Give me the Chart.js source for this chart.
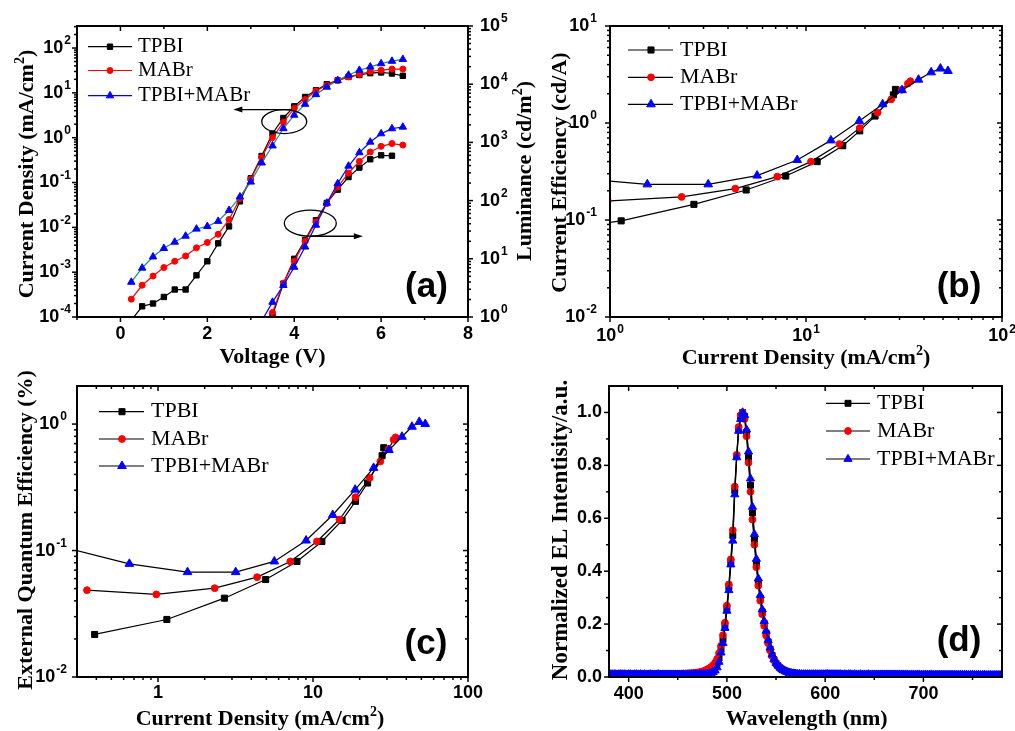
<!DOCTYPE html>
<html>
<head>
<meta charset="utf-8">
<title>Device characteristics: TPBI, MABr, TPBI+MABr</title>
<script src="https://cdn.jsdelivr.net/npm/chart.js@4.4.1/dist/chart.umd.min.js"></script>
<style>
  html, body { margin: 0; padding: 0; background: #fff; }
  #figure { position: relative; width: 1015px; height: 731px; }
  #figure canvas { position: absolute; left: 0; top: 0; pointer-events: none; }
</style>
</head>
<body>
<div id="figure">
  <canvas id="panelA" width="1015" height="731"></canvas>
  <canvas id="panelB" width="1015" height="731"></canvas>
  <canvas id="panelC" width="1015" height="731"></canvas>
  <canvas id="panelD" width="1015" height="731"></canvas>
</div>
<script>
const SERIF = '"Liberation Serif", "Times New Roman", serif';
const SANS = '"Liberation Sans", Arial, sans-serif';

// ---- (a) current density and luminance vs voltage ----
const voltage = [0.25, 0.5, 0.75, 1.0, 1.25, 1.5, 1.75, 2.0, 2.25, 2.5, 2.75, 3.0, 3.25,
                 3.5, 3.75, 4.0, 4.25, 4.5, 4.75, 5.0, 5.25, 5.5, 5.75, 6.0, 6.25, 6.5];
const jTPBI = [8.4e-5, 1.73e-4, 2.0e-4, 2.8e-4, 4.1e-4, 4.1e-4, 8.5e-4, 1.75e-3, 4.4e-3, 1.05e-2, 3.8e-2, 0.124, 0.39,
               1.24, 2.75, 5.0, 8.1, 11.4, 15.6, 19, 22.7, 25, 27.5, 28.5, 27, 24];
const jMABr = [2.5e-4, 5.1e-4, 8.2e-4, 1.27e-3, 1.75e-3, 2.3e-3, 3.5e-3, 4.6e-3, 7.0e-3, 1.5e-2, 4.4e-2, 0.118, 0.36,
               1.0, 2.2, 4.5, 7.1, 11, 14.8, 19, 22.7, 26, 30, 32, 34, 34];
const jMixed = [6.0e-4, 1.24e-3, 2.2e-3, 3.4e-3, 4.7e-3, 6.4e-3, 9.2e-3, 1.05e-2, 1.37e-2, 2.4e-2, 4.8e-2, 0.103, 0.275,
                0.66, 1.6, 3.2, 5.6, 9.2, 13.5, 19, 25, 32, 38, 45, 51, 56];

const lumVoltage = [3.25, 3.5, 3.75, 4.0, 4.25, 4.5, 4.75, 5.0, 5.25, 5.5, 5.75, 6.0, 6.25, 6.5];
const lumTPBI = [0.3, 1.07, 3.75, 10, 21, 46, 91, 154, 254, 369, 513, 600, 590];
const lumMABr = [0.4, 1.2, 3.8, 9.1, 20, 43, 89, 171, 298, 473, 684, 857, 955, 900];
const lumMixed = [0.85, 1.8, 3.5, 7.2, 16, 38, 91, 196, 393, 668, 1016, 1413, 1727, 1840];

// ---- (b) current efficiency and (c) EQE vs current density ----
const jeTPBI = [0.39, 1.14, 2.68, 4.95, 7.88, 11.4, 15.4, 18.8, 22.5, 27.9, 28.6];
const ceTPBI = [0.074, 0.098, 0.145, 0.204, 0.284, 0.40, 0.583, 0.83, 1.18, 1.95, 2.22];
const eqeTPBI = [0.0217, 0.0285, 0.042, 0.059, 0.082, 0.118, 0.173, 0.245, 0.342, 0.562, 0.65];

const jeMABr = [0.348, 0.975, 2.32, 4.36, 7.14, 10.6, 14.8, 18.8, 23.2, 27.2, 30.8, 33.1, 34.1];
const ceMABr = [0.166, 0.157, 0.173, 0.211, 0.28, 0.40, 0.607, 0.89, 1.28, 1.75, 2.2, 2.55, 2.7];
const eqeMABr = [0.0486, 0.045, 0.0504, 0.0616, 0.082, 0.118, 0.176, 0.264, 0.375, 0.507, 0.635, 0.752, 0.785];

const jeMixed = [0.2, 0.653, 1.55, 3.17, 5.63, 9.02, 13.4, 18.7, 24.6, 30.9, 37.5, 43.5, 48.5, 53];
const ceMixed = [0.39, 0.27, 0.233, 0.233, 0.287, 0.415, 0.662, 1.05, 1.56, 2.18, 2.8, 3.33, 3.64, 3.44];
const eqeMixed = [0.113, 0.0785, 0.0675, 0.0675, 0.082, 0.12, 0.191, 0.303, 0.45, 0.623, 0.794, 0.953, 1.04, 1.0];

// ---- (d) normalized EL spectra, sampled every 2 nm from 380 to 780 nm ----
const wlStart = 380, wlStep = 2;
const elTPBI = [
  0.011, 0.011, 0.011, 0.011, 0.011, 0.011, 0.011, 0.011, 0.010, 0.011,
  0.011, 0.010, 0.011, 0.010, 0.010, 0.011, 0.010, 0.010, 0.010, 0.010,
  0.010, 0.010, 0.010, 0.010, 0.010, 0.010, 0.010, 0.010, 0.010, 0.010,
  0.010, 0.010, 0.010, 0.010, 0.010, 0.011, 0.011, 0.011, 0.011, 0.011,
  0.011, 0.012, 0.012, 0.012, 0.013, 0.013, 0.014, 0.015, 0.016, 0.018,
  0.020, 0.022, 0.026, 0.031, 0.038, 0.050, 0.072, 0.104, 0.142, 0.195,
  0.260, 0.340, 0.435, 0.535, 0.705, 0.835, 0.940, 0.985, 1.000, 0.985,
  0.925, 0.830, 0.725, 0.620, 0.520, 0.430, 0.358, 0.298, 0.246, 0.202,
  0.165, 0.133, 0.105, 0.082, 0.065, 0.052, 0.043, 0.035, 0.029, 0.025,
  0.021, 0.018, 0.016, 0.015, 0.014, 0.013, 0.012, 0.012, 0.011, 0.011,
  0.011, 0.011, 0.010, 0.010, 0.010, 0.010, 0.010, 0.010, 0.010, 0.010,
  0.010, 0.010, 0.010, 0.010, 0.010, 0.010, 0.010, 0.010, 0.010, 0.009,
  0.010, 0.009, 0.010, 0.009, 0.009, 0.010, 0.009, 0.009, 0.009, 0.009,
  0.009, 0.009, 0.009, 0.009, 0.009, 0.009, 0.009, 0.009, 0.009, 0.009,
  0.009, 0.009, 0.009, 0.009, 0.009, 0.009, 0.009, 0.009, 0.009, 0.009,
  0.009, 0.009, 0.009, 0.009, 0.009, 0.009, 0.009, 0.009, 0.008, 0.009,
  0.009, 0.008, 0.009, 0.009, 0.008, 0.009, 0.008, 0.008, 0.009, 0.008,
  0.008, 0.008, 0.008, 0.008, 0.008, 0.008, 0.008, 0.008, 0.008, 0.008,
  0.008, 0.008, 0.008, 0.008, 0.008, 0.008, 0.008, 0.008, 0.008, 0.008,
  0.008, 0.008, 0.008, 0.008, 0.008, 0.008, 0.008, 0.008, 0.008, 0.008,
  0.008
];
const elMABr = [
  0.013, 0.013, 0.012, 0.013, 0.012, 0.012, 0.013, 0.012, 0.012, 0.012,
  0.012, 0.012, 0.012, 0.011, 0.012, 0.012, 0.011, 0.012, 0.011, 0.011,
  0.011, 0.012, 0.011, 0.011, 0.011, 0.011, 0.011, 0.011, 0.011, 0.012,
  0.011, 0.011, 0.012, 0.012, 0.012, 0.012, 0.012, 0.013, 0.013, 0.013,
  0.014, 0.014, 0.015, 0.015, 0.016, 0.017, 0.018, 0.020, 0.022, 0.025,
  0.029, 0.033, 0.038, 0.045, 0.054, 0.068, 0.090, 0.118, 0.158, 0.205,
  0.270, 0.350, 0.445, 0.555, 0.720, 0.840, 0.945, 0.990, 1.000, 0.975,
  0.910, 0.810, 0.700, 0.595, 0.500, 0.415, 0.345, 0.288, 0.237, 0.193,
  0.156, 0.128, 0.100, 0.080, 0.064, 0.052, 0.043, 0.036, 0.030, 0.026,
  0.022, 0.019, 0.017, 0.016, 0.015, 0.014, 0.013, 0.013, 0.012, 0.012,
  0.012, 0.012, 0.011, 0.011, 0.011, 0.011, 0.011, 0.011, 0.011, 0.011,
  0.011, 0.011, 0.011, 0.010, 0.011, 0.011, 0.010, 0.011, 0.010, 0.010,
  0.010, 0.010, 0.011, 0.010, 0.010, 0.010, 0.010, 0.010, 0.010, 0.010,
  0.010, 0.010, 0.010, 0.010, 0.010, 0.011, 0.010, 0.010, 0.010, 0.010,
  0.010, 0.010, 0.010, 0.010, 0.010, 0.010, 0.010, 0.010, 0.009, 0.010,
  0.010, 0.010, 0.009, 0.010, 0.010, 0.009, 0.010, 0.010, 0.009, 0.009,
  0.010, 0.009, 0.009, 0.010, 0.009, 0.009, 0.009, 0.010, 0.009, 0.009,
  0.009, 0.009, 0.009, 0.009, 0.010, 0.009, 0.009, 0.009, 0.009, 0.009,
  0.009, 0.009, 0.009, 0.009, 0.009, 0.009, 0.008, 0.009, 0.009, 0.009,
  0.009, 0.009, 0.008, 0.009, 0.009, 0.008, 0.009, 0.008, 0.008, 0.009,
  0.008
];
const elMixed = [
  0.010, 0.010, 0.010, 0.010, 0.009, 0.010, 0.010, 0.010, 0.010, 0.009,
  0.010, 0.010, 0.009, 0.010, 0.010, 0.009, 0.010, 0.009, 0.010, 0.009,
  0.009, 0.010, 0.009, 0.009, 0.009, 0.010, 0.009, 0.009, 0.009, 0.009,
  0.009, 0.009, 0.009, 0.009, 0.009, 0.009, 0.009, 0.009, 0.009, 0.009,
  0.009, 0.009, 0.009, 0.009, 0.010, 0.010, 0.010, 0.010, 0.011, 0.011,
  0.012, 0.013, 0.015, 0.018, 0.024, 0.036, 0.057, 0.092, 0.128, 0.185,
  0.250, 0.328, 0.425, 0.515, 0.690, 0.830, 0.930, 0.975, 1.000, 0.990,
  0.935, 0.852, 0.750, 0.643, 0.540, 0.446, 0.372, 0.309, 0.255, 0.211,
  0.174, 0.139, 0.111, 0.085, 0.067, 0.053, 0.043, 0.035, 0.029, 0.025,
  0.021, 0.018, 0.016, 0.014, 0.013, 0.012, 0.011, 0.011, 0.010, 0.010,
  0.010, 0.010, 0.010, 0.010, 0.010, 0.010, 0.010, 0.010, 0.010, 0.010,
  0.010, 0.011, 0.010, 0.010, 0.010, 0.010, 0.010, 0.010, 0.010, 0.009,
  0.010, 0.009, 0.010, 0.010, 0.009, 0.010, 0.009, 0.009, 0.010, 0.009,
  0.009, 0.009, 0.010, 0.009, 0.009, 0.009, 0.009, 0.009, 0.009, 0.009,
  0.009, 0.009, 0.009, 0.009, 0.009, 0.009, 0.009, 0.009, 0.009, 0.009,
  0.009, 0.009, 0.009, 0.008, 0.009, 0.009, 0.008, 0.009, 0.009, 0.008,
  0.008, 0.009, 0.008, 0.008, 0.009, 0.008, 0.008, 0.008, 0.008, 0.008,
  0.008, 0.008, 0.008, 0.008, 0.008, 0.008, 0.008, 0.008, 0.008, 0.008,
  0.008, 0.008, 0.008, 0.007, 0.008, 0.008, 0.008, 0.007, 0.008, 0.007,
  0.007, 0.008, 0.007, 0.007, 0.007, 0.007, 0.007, 0.007, 0.007, 0.007,
  0.007
];
const wavelength = elTPBI.map((_, i) => wlStart + i * wlStep);

// ---- axis ticks ----
const voltageTicks = [0, 2, 4, 6, 8];
const voltageMinor = [-1, 1, 3, 5, 7];
const wlTicks = [400, 500, 600, 700];
const wlMinor = [450, 550, 650, 750];
const elTicks = [0, 0.2, 0.4, 0.6, 0.8, 1.0];
const elMinor = [0.1, 0.3, 0.5, 0.7, 0.9];

const BLACK = '#000000', RED = '#ff0000', BLUE = '#0000ff', TEAL = '#1b8a8a';

// plot rectangles on the page
const boxA = { left: 77, top: 26, right: 468, bottom: 317 };
const boxB = { left: 610, top: 26, right: 1002, bottom: 317 };
const boxC = { left: 77, top: 386, right: 468, bottom: 677 };
const boxD = { left: 609, top: 386, right: 1002, bottom: 677 };

function pairs(xs, ys) { return ys.map((y, i) => ({ x: xs[i], y: y })); }
function pad(b) { return { left: b.left, top: b.top, right: 1015 - b.right, bottom: 731 - b.bottom }; }
function decades(lo, hi) { const out = []; for (let e = lo; e <= hi; e++) out.push(Math.pow(10, e)); return out; }
function powLabels(lo, hi) { const out = []; for (let e = lo; e <= hi; e++) out.push({ base: '10', sup: String(e) }); return out; }
function logMinor(lo, hi) {
  const out = [];
  for (let e = Math.floor(Math.log10(lo)); e <= Math.ceil(Math.log10(hi)); e++) {
    for (let m = 2; m <= 9; m++) {
      const v = m * Math.pow(10, e);
      if (v > lo * 1.0001 && v < hi * 0.9999) out.push(v);
    }
  }
  return out;
}

function series(label, xs, ys, style, color, lineColor, radius, order, extra) {
  return Object.assign({
    label: label,
    data: pairs(xs, ys),
    showLine: true,
    borderColor: lineColor,
    borderWidth: 1.2,
    pointStyle: style,
    pointRadius: radius,
    pointHoverRadius: radius,
    pointBackgroundColor: color,
    pointBorderColor: color,
    pointBorderWidth: 1,
    clip: 0,
    order: order
  }, extra || {});
}

function drawMarker(ctx, style, color, r, x, y) {
  ctx.fillStyle = color;
  ctx.strokeStyle = color;
  ctx.lineWidth = 1;
  ctx.beginPath();
  if (style === 'rect') {
    const s = r * Math.SQRT1_2;
    ctx.rect(x - s, y - s, 2 * s, 2 * s);
  } else if (style === 'triangle') {
    for (let k = 0; k < 3; k++) {
      const ang = k * 2 * Math.PI / 3;
      const px = x + Math.sin(ang) * r, py = y - Math.cos(ang) * r;
      if (k === 0) ctx.moveTo(px, py); else ctx.lineTo(px, py);
    }
    ctx.closePath();
  } else {
    ctx.arc(x, y, r, 0, Math.PI * 2);
  }
  ctx.fill();
  ctx.stroke();
}

const TICK_FONT = '700 18px ' + SANS;
const SUP_FONT = '700 12px ' + SANS;

function drawTickLabel(ctx, lab, x, y, align) {
  ctx.font = TICK_FONT;
  const wb = ctx.measureText(lab.base).width;
  ctx.font = SUP_FONT;
  const ws = lab.sup ? ctx.measureText(lab.sup).width + 1 : 0;
  const w = wb + ws;
  const x0 = align === 'center' ? x - w / 2 : align === 'right' ? x - w : x;
  ctx.textAlign = 'left';
  ctx.textBaseline = 'middle';
  ctx.fillStyle = '#000';
  ctx.font = TICK_FONT;
  ctx.fillText(lab.base, x0, y);
  if (lab.sup) {
    ctx.font = SUP_FONT;
    ctx.fillText(lab.sup, x0 + wb + 1, y - 7);
  }
}

function drawAxis(ctx, chart, ax) {
  const s = chart.scales[ax.scale];
  const a = chart.chartArea;
  const horiz = ax.side === 'top' || ax.side === 'bottom';
  const edge = a[ax.side];
  const outward = (ax.side === 'left' || ax.side === 'top') ? -1 : 1;
  const dir = ax.inward ? -outward : outward;
  ctx.strokeStyle = '#000';
  ctx.lineWidth = 1.5;
  const tick = (v, len) => {
    const p = s.getPixelForValue(v);
    ctx.beginPath();
    if (horiz) { ctx.moveTo(p, edge); ctx.lineTo(p, edge + dir * len); }
    else { ctx.moveTo(edge, p); ctx.lineTo(edge + dir * len, p); }
    ctx.stroke();
  };
  (ax.minor || []).forEach(v => tick(v, 3));
  ax.major.forEach(v => tick(v, 5));
  if (!ax.labels) return;
  ax.major.forEach((v, i) => {
    const p = s.getPixelForValue(v);
    const lab = ax.labels[i];
    if (ax.side === 'bottom') drawTickLabel(ctx, lab, p, edge + ax.offset, 'center');
    else if (ax.side === 'left') drawTickLabel(ctx, lab, edge - ax.offset, p, 'right');
    else if (ax.side === 'right') drawTickLabel(ctx, lab, edge + ax.offset, p, 'left');
  });
}

function drawTitle(ctx, t) {
  const size = t.size || 22;
  const main = '700 ' + size + 'px ' + SERIF;
  const sup = '700 ' + Math.round(size * 0.62) + 'px ' + SERIF;
  let w = 0;
  t.parts.forEach(p => { ctx.font = p[1] ? sup : main; w += ctx.measureText(p[0]).width; });
  ctx.save();
  ctx.translate(t.x, t.y);
  if (t.rotate) ctx.rotate(-Math.PI / 2);
  ctx.textAlign = 'left';
  ctx.textBaseline = 'alphabetic';
  ctx.fillStyle = '#000';
  let x = -w / 2;
  t.parts.forEach(p => {
    ctx.font = p[1] ? sup : main;
    ctx.fillText(p[0], x, p[1] ? -size * 0.4 : 0);
    x += ctx.measureText(p[0]).width;
  });
  ctx.restore();
}

function drawLegend(ctx, lg) {
  lg.items.forEach((it, i) => {
    const y = lg.rows[i];
    ctx.strokeStyle = it.line;
    ctx.lineWidth = 1.2;
    ctx.beginPath();
    ctx.moveTo(lg.x0, y);
    ctx.lineTo(lg.x1, y);
    ctx.stroke();
    drawMarker(ctx, it.style, it.color, it.radius, lg.mx, y);
    ctx.fillStyle = '#000';
    ctx.font = lg.size + 'px ' + SERIF;
    ctx.textAlign = 'left';
    ctx.textBaseline = 'middle';
    ctx.fillText(it.label, lg.tx, y);
  });
}

function drawNote(ctx, chart, n) {
  const xs = chart.scales.x, ys = chart.scales[n.scale];
  ctx.strokeStyle = '#000';
  ctx.fillStyle = '#000';
  ctx.lineWidth = 1.3;
  if (n.kind === 'ellipse') {
    ctx.beginPath();
    ctx.ellipse(xs.getPixelForValue(n.v), ys.getPixelForValue(n.val), n.rx, n.ry, 0, 0, Math.PI * 2);
    ctx.stroke();
  } else {
    const x1 = xs.getPixelForValue(n.v1), x2 = xs.getPixelForValue(n.v2), y = ys.getPixelForValue(n.val);
    const d = Math.sign(x2 - x1);
    ctx.beginPath();
    ctx.moveTo(x1, y);
    ctx.lineTo(x2 - d * 6, y);
    ctx.stroke();
    ctx.beginPath();
    ctx.moveTo(x2, y);
    ctx.lineTo(x2 - d * 9, y - 3);
    ctx.lineTo(x2 - d * 9, y + 3);
    ctx.closePath();
    ctx.fill();
  }
}

// axes, frame, titles, legend and panel tag drawn on top of the datasets
function decor(spec) {
  return {
    id: 'decor',
    afterDraw(chart) {
      const ctx = chart.ctx, a = chart.chartArea;
      ctx.save();
      (spec.notes || []).forEach(n => drawNote(ctx, chart, n));
      spec.axes.forEach(ax => drawAxis(ctx, chart, ax));
      ctx.strokeStyle = '#000';
      ctx.lineWidth = 2;
      ctx.strokeRect(a.left, a.top, a.right - a.left, a.bottom - a.top);
      spec.titles.forEach(t => drawTitle(ctx, t));
      drawLegend(ctx, spec.legend);
      ctx.fillStyle = '#000';
      ctx.font = '700 35px ' + SANS;
      ctx.textAlign = 'center';
      ctx.textBaseline = 'alphabetic';
      ctx.fillText(spec.tag.text, spec.tag.x, spec.tag.y);
      ctx.restore();
    }
  };
}

function legendItems(datasets, lineColors) {
  return datasets.map((d, i) => ({
    label: d.label, style: d.pointStyle, color: d.pointBackgroundColor,
    radius: d.pointRadius, line: lineColors ? lineColors[i] : BLACK
  }));
}

function baseOptions(box, scales) {
  return {
    responsive: false,
    animation: false,
    events: [],
    layout: { padding: pad(box) },
    scales: scales,
    plugins: { legend: { display: false }, tooltip: { enabled: false } }
  };
}

const cdTitle = [['Current Density (mA/cm'], ['2', true], [')']];

// ---- panel (a) ----
const jvSets = [
  series('TPBI', voltage, jTPBI, 'rect', BLACK, BLACK, 3.8, 2, { yAxisID: 'y' }),
  series('MABr', voltage, jMABr, 'circle', RED, RED, 3, 1, { yAxisID: 'y' }),
  series('TPBI+MABr', voltage, jMixed, 'triangle', BLUE, TEAL, 4.3, 0, { yAxisID: 'y' })
];
const lvSets = [
  series('TPBI', lumVoltage, lumTPBI, 'rect', BLACK, BLACK, 3.8, 2, { yAxisID: 'y2' }),
  series('MABr', lumVoltage, lumMABr, 'circle', RED, RED, 3, 1, { yAxisID: 'y2' }),
  series('TPBI+MABr', lumVoltage, lumMixed, 'triangle', BLUE, BLUE, 4.3, 0, { yAxisID: 'y2' })
];
new Chart(document.getElementById('panelA'), {
  type: 'scatter',
  data: { datasets: jvSets.concat(lvSets) },
  options: baseOptions(boxA, {
    x: { type: 'linear', min: -1, max: 8, display: false },
    y: { type: 'logarithmic', min: 1e-4, max: 310, display: false },
    y2: { type: 'logarithmic', position: 'right', min: 1, max: 1e5, display: false }
  }),
  plugins: [decor({
    notes: [
      { kind: 'ellipse', v: 3.77, val: 2.29, scale: 'y', rx: 22.5, ry: 12 },
      { kind: 'arrow', v1: 3.95, v2: 2.6, val: 4.23, scale: 'y' },
      { kind: 'ellipse', v: 4.37, val: 40.9, scale: 'y2', rx: 26, ry: 13 },
      { kind: 'arrow', v1: 4.37, v2: 5.58, val: 24.4, scale: 'y2' }
    ],
    axes: [
      { scale: 'x', side: 'bottom', major: voltageTicks, minor: voltageMinor,
        labels: voltageTicks.map(v => ({ base: String(v) })), offset: 17 },
      { scale: 'x', side: 'top', major: voltageTicks, minor: voltageMinor, inward: true },
      { scale: 'y', side: 'left', major: decades(-4, 2), minor: logMinor(1e-4, 310), labels: powLabels(-4, 2), offset: 6 },
      { scale: 'y2', side: 'right', major: decades(0, 5), minor: logMinor(1, 1e5), labels: powLabels(0, 5), offset: 12 }
    ],
    titles: [
      { parts: [['Voltage (V)']], x: 272.5, y: 363 },
      { parts: cdTitle, x: 33, y: 174, rotate: true },
      { parts: [['Luminance (cd/m'], ['2', true], [')']], x: 531, y: 171, rotate: true }
    ],
    legend: { x0: 88, x1: 132, mx: 110, tx: 138, rows: [46.7, 70.5, 95.7], size: 21,
              items: legendItems(jvSets, [BLACK, RED, BLUE]) },
    tag: { text: '(a)', x: 426.5, y: 297 }
  })]
});

// ---- panel (b) ----
const ceSets = [
  series('TPBI', jeTPBI, ceTPBI, 'rect', BLACK, BLACK, 4.3, 2),
  series('MABr', jeMABr, ceMABr, 'circle', RED, BLACK, 3.4, 1),
  series('TPBI+MABr', jeMixed, ceMixed, 'triangle', BLUE, BLACK, 5, 0)
];
new Chart(document.getElementById('panelB'), {
  type: 'scatter',
  data: { datasets: ceSets },
  options: baseOptions(boxB, {
    x: { type: 'logarithmic', min: 1, max: 100, display: false },
    y: { type: 'logarithmic', min: 0.01, max: 10, display: false }
  }),
  plugins: [decor({
    axes: [
      { scale: 'x', side: 'bottom', major: decades(0, 2), minor: logMinor(1, 100), labels: powLabels(0, 2), offset: 19.5 },
      { scale: 'x', side: 'top', major: decades(0, 2), minor: logMinor(1, 100), inward: true },
      { scale: 'y', side: 'left', major: decades(-2, 1), minor: logMinor(0.01, 10), labels: powLabels(-2, 1), offset: 13 },
      { scale: 'y', side: 'right', major: decades(-2, 1), minor: logMinor(0.01, 10), inward: true }
    ],
    titles: [
      { parts: cdTitle, x: 806, y: 364 },
      { parts: [['Current Efficiency (cd/A)']], x: 566, y: 172.5, rotate: true }
    ],
    legend: { x0: 628, x1: 673, mx: 651, tx: 680, rows: [50, 77.3, 104.3], size: 22,
              items: legendItems(ceSets) },
    tag: { text: '(b)', x: 959, y: 297 }
  })]
});

// ---- panel (c) ----
const eqeSets = [
  series('TPBI', jeTPBI, eqeTPBI, 'rect', BLACK, BLACK, 4.3, 2),
  series('MABr', jeMABr, eqeMABr, 'circle', RED, BLACK, 3.4, 1),
  series('TPBI+MABr', jeMixed, eqeMixed, 'triangle', BLUE, BLACK, 5, 0)
];
new Chart(document.getElementById('panelC'), {
  type: 'scatter',
  data: { datasets: eqeSets },
  options: baseOptions(boxC, {
    x: { type: 'logarithmic', min: 0.3, max: 100, display: false },
    y: { type: 'logarithmic', min: 0.01, max: 2, display: false }
  }),
  plugins: [decor({
    axes: [
      { scale: 'x', side: 'bottom', major: decades(0, 2), minor: logMinor(0.3, 100),
        labels: [{ base: '1' }, { base: '10' }, { base: '100' }], offset: 16 },
      { scale: 'x', side: 'top', major: decades(0, 2), minor: logMinor(0.3, 100), inward: true },
      { scale: 'y', side: 'left', major: decades(-2, 0), minor: logMinor(0.01, 2), labels: powLabels(-2, 0), offset: 10 },
      { scale: 'y', side: 'right', major: decades(-2, 0), minor: logMinor(0.01, 2), inward: true }
    ],
    titles: [
      { parts: cdTitle, x: 260, y: 725 },
      { parts: [['External Quantum Efficiency (%)']], x: 32, y: 530, rotate: true }
    ],
    legend: { x0: 99, x1: 144, mx: 122, tx: 151, rows: [411.7, 439, 466], size: 22,
              items: legendItems(eqeSets) },
    tag: { text: '(c)', x: 426, y: 654 }
  })]
});

// ---- panel (d) ----
const elSets = [
  series('TPBI', wavelength, elTPBI, 'rect', BLACK, BLACK, 4.2, 2),
  series('MABr', wavelength, elMABr, 'circle', RED, BLACK, 3.4, 1),
  series('TPBI+MABr', wavelength, elMixed, 'triangle', BLUE, BLACK, 4.7, 0)
];
new Chart(document.getElementById('panelD'), {
  type: 'scatter',
  data: { datasets: elSets },
  options: baseOptions(boxD, {
    x: { type: 'linear', min: 380, max: 780, display: false },
    y: { type: 'linear', min: 0, max: 1.1, display: false }
  }),
  plugins: [decor({
    axes: [
      { scale: 'x', side: 'bottom', major: wlTicks, minor: wlMinor, labels: wlTicks.map(v => ({ base: String(v) })), offset: 17 },
      { scale: 'x', side: 'top', major: wlTicks, minor: wlMinor, inward: true },
      { scale: 'y', side: 'left', major: elTicks, minor: elMinor, labels: elTicks.map(v => ({ base: v.toFixed(1) })), offset: 7 },
      { scale: 'y', side: 'right', major: elTicks, minor: elMinor, inward: true }
    ],
    titles: [
      { parts: [['Wavelength (nm)']], x: 806.7, y: 725 },
      { parts: [['Normalized EL Intentisity/a.u.']], x: 567, y: 530, rotate: true, size: 23 }
    ],
    legend: { x0: 826, x1: 870, mx: 848, tx: 877, rows: [403.3, 431, 459], size: 22,
              items: legendItems(elSets) },
    tag: { text: '(d)', x: 959, y: 651 }
  })]
});
</script>
</body>
</html>
